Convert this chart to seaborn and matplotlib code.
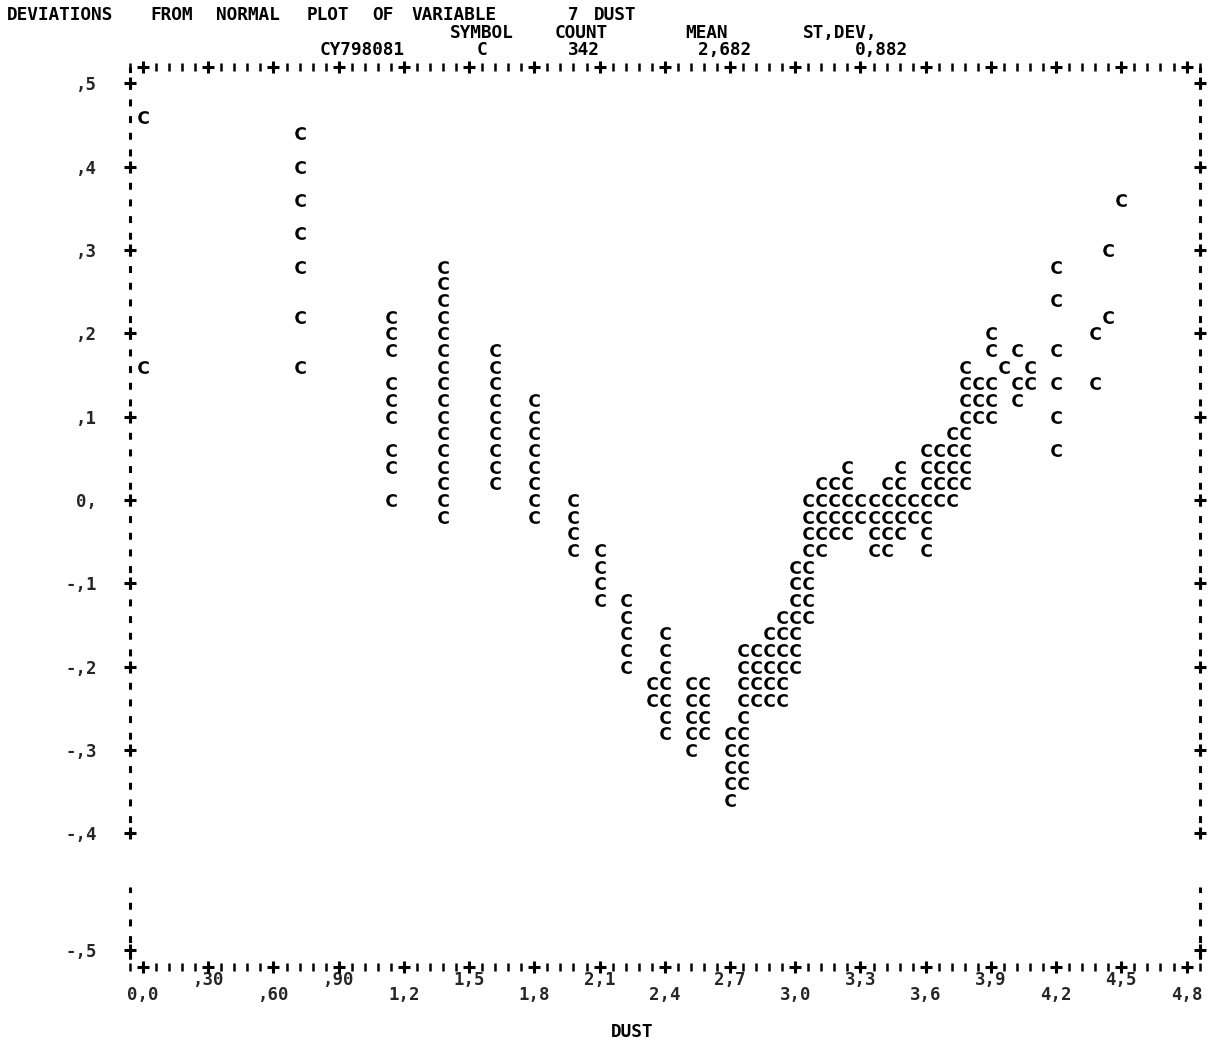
import numpy as np
import pandas as pd
import matplotlib
matplotlib.use("Agg")
import matplotlib.pyplot as plt
import seaborn as sns
from matplotlib.ticker import MultipleLocator, NullLocator

# ---------------- data ----------------
column_dust = [0.00, 0.72, 1.14, 1.38, 1.62, 1.80, 1.98, 2.10, 2.22, 2.34,
               2.40, 2.52, 2.58, 2.70, 2.76, 2.82, 2.88, 2.94, 3.00, 3.06,
               3.12, 3.18, 3.24, 3.30, 3.36, 3.42, 3.48, 3.54, 3.60, 3.66,
               3.72, 3.78, 3.84, 3.90, 3.96, 4.02, 4.08, 4.20, 4.38, 4.44,
               4.50]
column_deviations = [
    [0.46, 0.16],
    [0.44, 0.40, 0.36, 0.32, 0.28, 0.22, 0.16],
    [0.22, 0.20, 0.18, 0.14, 0.12, 0.10, 0.06, 0.04, 0.00],
    [0.28, 0.26, 0.24, 0.22, 0.20, 0.18, 0.16, 0.14, 0.12, 0.10, 0.08, 0.06, 0.04, 0.02, 0.00, -0.02],
    [0.18, 0.16, 0.14, 0.12, 0.10, 0.08, 0.06, 0.04, 0.02],
    [0.12, 0.10, 0.08, 0.06, 0.04, 0.02, 0.00, -0.02],
    [0.00, -0.02, -0.04, -0.06],
    [-0.06, -0.08, -0.10, -0.12],
    [-0.12, -0.14, -0.16, -0.18, -0.20],
    [-0.22, -0.24],
    [-0.16, -0.18, -0.20, -0.22, -0.24, -0.26, -0.28],
    [-0.22, -0.24, -0.26, -0.28, -0.30],
    [-0.22, -0.24, -0.26, -0.28],
    [-0.28, -0.30, -0.32, -0.34, -0.36],
    [-0.18, -0.20, -0.22, -0.24, -0.26, -0.28, -0.30, -0.32, -0.34],
    [-0.18, -0.20, -0.22, -0.24],
    [-0.16, -0.18, -0.20, -0.22, -0.24],
    [-0.14, -0.16, -0.18, -0.20, -0.22, -0.24],
    [-0.08, -0.10, -0.12, -0.14, -0.16, -0.18, -0.20],
    [0.00, -0.02, -0.04, -0.06, -0.08, -0.10, -0.12, -0.14],
    [0.02, 0.00, -0.02, -0.04, -0.06],
    [0.02, 0.00, -0.02, -0.04],
    [0.04, 0.02, 0.00, -0.02, -0.04],
    [0.00, -0.02],
    [0.00, -0.02, -0.04, -0.06],
    [0.02, 0.00, -0.02, -0.04, -0.06],
    [0.04, 0.02, 0.00, -0.02, -0.04],
    [0.00, -0.02],
    [0.06, 0.04, 0.02, 0.00, -0.02, -0.04, -0.06],
    [0.06, 0.04, 0.02, 0.00],
    [0.08, 0.06, 0.04, 0.02, 0.00],
    [0.16, 0.14, 0.12, 0.10, 0.08, 0.06, 0.04, 0.02],
    [0.14, 0.12, 0.10],
    [0.20, 0.18, 0.14, 0.12, 0.10],
    [0.16],
    [0.18, 0.14, 0.12],
    [0.16, 0.14],
    [0.28, 0.24, 0.18, 0.14, 0.10, 0.06],
    [0.20, 0.14],
    [0.30, 0.22],
    [0.36],
]

x_tick_values = [0.0, 0.3, 0.6, 0.9, 1.2, 1.5, 1.8, 2.1, 2.4, 2.7, 3.0,
                 3.3, 3.6, 3.9, 4.2, 4.5, 4.8]
x_tick_labels = ["0,0", ",30", ",60", ",90", "1,2", "1,5", "1,8", "2,1", "2,4",
                 "2,7", "3,0", "3,3", "3,6", "3,9", "4,2", "4,5", "4,8"]
y_tick_values = [-0.5, -0.4, -0.3, -0.2, -0.1, 0.0, 0.1, 0.2, 0.3, 0.4, 0.5]
y_tick_labels = ["-,5", "-,4", "-,3", "-,2", "-,1", "0,", ",1", ",2", ",3", ",4", ",5"]

title_words = ["DEVIATIONS", "FROM", "NORMAL", "PLOT", "OF", "VARIABLE", "7", "DUST"]
title_cols = [0, 11, 16, 23, 28, 31, 43, 45]
header_words = ["SYMBOL", "COUNT", "MEAN", "ST,DEV,"]
header_cols = [34, 42, 52, 61]
value_words = ["CY798081", "C", "342", "2,682", "0,882"]
value_cols = [24, 36, 43, 53, 65]
x_label = "DUST"

# ---------------- assemble ----------------
dust = [x for x, devs in zip(column_dust, column_deviations) for _ in devs]
deviation = [d for devs in column_deviations for d in devs]
df = pd.DataFrame({"DUST": dust, "deviation": deviation})

sns.set_style("white")
plt.rcParams["font.family"] = ["DejaVu Sans Mono", "DejaVu Sans"]
plt.rcParams["font.weight"] = "bold"
plt.rcParams["lines.scale_dashes"] = False

W, H = 1218, 1041
fig = plt.figure(figsize=(W / 100, H / 100), dpi=100)
fig.patch.set_facecolor("white")

top_px, bot_px = 66.7, 966.7
left_px, right_px = 130.0, 1199.6
ax = fig.add_axes([left_px / W, 1 - bot_px / H, (right_px - left_px) / W, (bot_px - top_px) / H])

sns.scatterplot(data=df, x="DUST", y="deviation", marker=r"$\mathbf{C}$", s=85,
                color="black", linewidth=0, ax=ax, legend=False, clip_on=False)

# the printer page had a small feed gap just below -.4
GAP_TOP, SHIFT = -0.41, 0.04
def fwd(d):
    d = np.asarray(d, dtype=float)
    return np.where(d < GAP_TOP, d - SHIFT, d)
def inv(y):
    y = np.asarray(y, dtype=float)
    return np.where(y < GAP_TOP - SHIFT, y + SHIFT, np.where(y < GAP_TOP, GAP_TOP, y))
ax.set_yscale("function", functions=(fwd, inv))

ax.set_xlim(-0.06, 4.86)
ax.set_ylim(-0.52, 0.52)
ax.set_xlabel("")
ax.set_ylabel("")

lab_fs = 12.5
xl = [("\n" + l) if i % 2 == 0 else (l + "\n") for i, l in enumerate(x_tick_labels)]
ax.set_xticks(x_tick_values, xl, linespacing=0.8, fontsize=lab_fs, fontweight="bold")
ax.set_yticks(y_tick_values, y_tick_labels, fontsize=lab_fs, fontweight="bold")
ax.xaxis.set_minor_locator(MultipleLocator(0.06))
ax.yaxis.set_minor_locator(NullLocator())
ax.tick_params(axis="x", which="minor", bottom=True, top=True, direction="inout",
               length=6, width=1.8, color="black")
ax.tick_params(axis="x", which="major", bottom=True, top=False, length=0, pad=3)
ax.tick_params(axis="y", which="major", left=True, right=False, length=0, pad=24)
ax.grid(False)

for side in ("top", "bottom", "left", "right"):
    ax.spines[side].set_visible(False)

# dotted side borders of the printer frame (with the feed gap below -.4)
yt = ax.get_yaxis_transform()
border_kw = dict(transform=yt, color="black", lw=2.2, ls=(1.0, (5.0, 7.0)),
                 solid_capstyle="butt", clip_on=False)
for xx in (0, 1):
    ax.plot([xx, xx], [0.52, -0.405], **border_kw)
    ax.plot([xx, xx], [-0.424, -0.52], **border_kw)

# '+' marks of the printer frame at the tick positions
xt = ax.get_xaxis_transform()
for yy in (0, 1):
    ax.plot(x_tick_values, [yy] * len(x_tick_values), transform=xt, ls="none",
            marker="+", ms=8, mew=2.2, color="black", clip_on=False)
for xx in (0, 1):
    ax.plot([xx] * len(y_tick_values), y_tick_values, transform=yt, ls="none",
            marker="+", ms=8, mew=2.2, color="black", clip_on=False)

# header lines on the printer character grid
def col_x(p):
    return (7 + p * 13.04) / W
txt_kw = dict(fontsize=12.8, fontweight="bold", va="center", ha="left", color="black")
for w, p in zip(title_words, title_cols):
    fig.text(col_x(p), 1 - 15 / H, w, **txt_kw)
for w, p in zip(header_words, header_cols):
    fig.text(col_x(p), 1 - 33 / H, w, **txt_kw)
for w, p in zip(value_words, value_cols):
    fig.text(col_x(p), 1 - 50 / H, w, **txt_kw)
fig.text(632 / W, 1 - 1032 / H, x_label, fontsize=12.8, fontweight="bold",
         ha="center", va="center", color="black")

fig.savefig("out.png", dpi=100, facecolor="white")
